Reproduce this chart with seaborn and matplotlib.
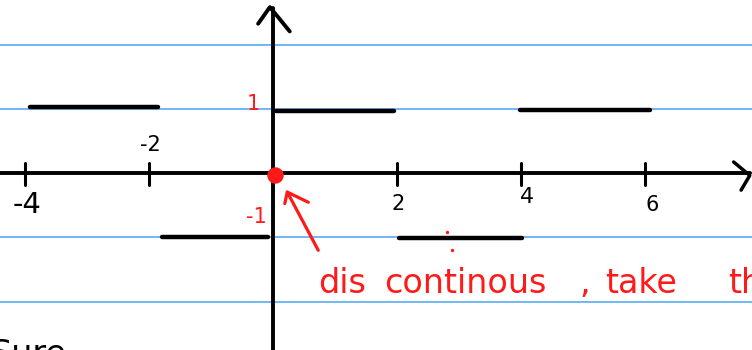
import numpy as np
import pandas as pd
import seaborn as sns
import matplotlib
matplotlib.use("Agg")
import matplotlib.pyplot as plt

# Square wave pieces: start, end and level of each flat segment
seg_start = [-3.92, -1.79, 0.05, 2.03, 3.98]
seg_end = [-1.85, -0.08, 1.95, 4.02, 6.08]
seg_level = [1.04, -1.0, 0.97, -1.01, 0.99]

# Tick positions and labels on the x axis
tick_pos = [-4, -2, 2, 4, 6]
tick_text = ["-4", "-2", "2", "4", "6"]

# Notebook ruled lines (y levels)
rule_levels = [2.0, 1.0, 0.0, -1.0, -2.0]

sns.set_theme(style="white")
plt.rcParams["font.family"] = ["DejaVu Sans"]

fig = plt.figure(figsize=(7.52, 3.5), dpi=100)
ax = fig.add_axes([0, 0, 1, 1])

blue = "#4aa3f5"
red = "#ff1a1a"

# ruled paper lines
for lv in rule_levels:
    ax.axhline(lv, color=blue, lw=1.1, zorder=0)

# axes with hand-drawn arrows
ax.plot([-5, 7.69], [0, 0], color="black", lw=2.8, solid_capstyle="round", zorder=2)
ax.plot([7.43, 7.69, 7.55], [0.18, -0.03, -0.26], color="black", lw=2.5,
        solid_capstyle="round", zorder=2)
ax.plot([0, 0], [-3, 2.58], color="black", lw=2.8, solid_capstyle="round", zorder=2)
ax.plot([-0.24, -0.05, 0.27], [2.34, 2.6, 2.22], color="black", lw=2.8,
        solid_capstyle="round", solid_joinstyle="round", zorder=2)

# tick marks
for t in tick_pos:
    ax.plot([t, t], [0.16, -0.18], color="black", lw=2.2, solid_capstyle="round", zorder=2)

# the step function, one line per flat piece
rows = []
for i, (a, b, lv) in enumerate(zip(seg_start, seg_end, seg_level)):
    rows.append({"seg": i, "x": a, "y": lv})
    rows.append({"seg": i, "x": b, "y": lv})
df = pd.DataFrame(rows)
sns.lineplot(data=df, x="x", y="y", units="seg", estimator=None, color="black",
             lw=3.2, ax=ax, legend=False, zorder=3, solid_capstyle="round")
ax.set_xlim(-273 / 62, (752 - 273) / 62)
ax.set_ylim(-(350 - 173.5) / 64, 173.5 / 64)
ax.axis("off")

# tick labels
label_xy = {"-4": (-3.97, -0.49, 21), "-2": (-1.98, 0.45, 15), "2": (2.02, -0.48, 15),
            "4": (4.10, -0.37, 16), "6": (6.11, -0.49, 15)}
for t in tick_text:
    x, y, fs = label_xy[t]
    ax.text(x, y, t, ha="center", va="center", fontsize=fs, color="black")

# red annotations
ax.text(-0.32, 1.08, "1", ha="center", va="center", fontsize=15, color=red)
ax.text(-0.27, -0.68, "-1", ha="center", va="center", fontsize=15, color=red)
ax.scatter([0.03], [-0.02], s=140, color=red, zorder=5, linewidths=0)
ax.plot([0.73, 0.23], [-1.2, -0.29], color=red, lw=2.3, solid_capstyle="round", zorder=4)
ax.plot([0.19, 0.23, 0.57], [-0.47, -0.29, -0.45], color=red, lw=2.3,
        solid_capstyle="round", solid_joinstyle="round", zorder=4)
ax.scatter([2.80, 2.89], [-0.91, -1.19], s=6, color=red, zorder=4, linewidths=0)
ax.text(0.72, -1.86, "dis", ha="left", va="baseline", fontsize=24, color=red)
ax.text(1.80, -1.86, "continous", ha="left", va="baseline", fontsize=24, color=red)
ax.text(4.95, -1.86, ",", ha="left", va="baseline", fontsize=24, color=red)
ax.text(5.35, -1.86, "take", ha="left", va="baseline", fontsize=24, color=red)
ax.text(7.34, -1.86, "th", ha="left", va="baseline", fontsize=24, color=red)

# black writing running off the bottom edge
ax.text(-4.55, -2.98, "Sure", ha="left", va="baseline", fontsize=24, color="black",
        clip_on=False)

fig.savefig("out.png", dpi=100)
